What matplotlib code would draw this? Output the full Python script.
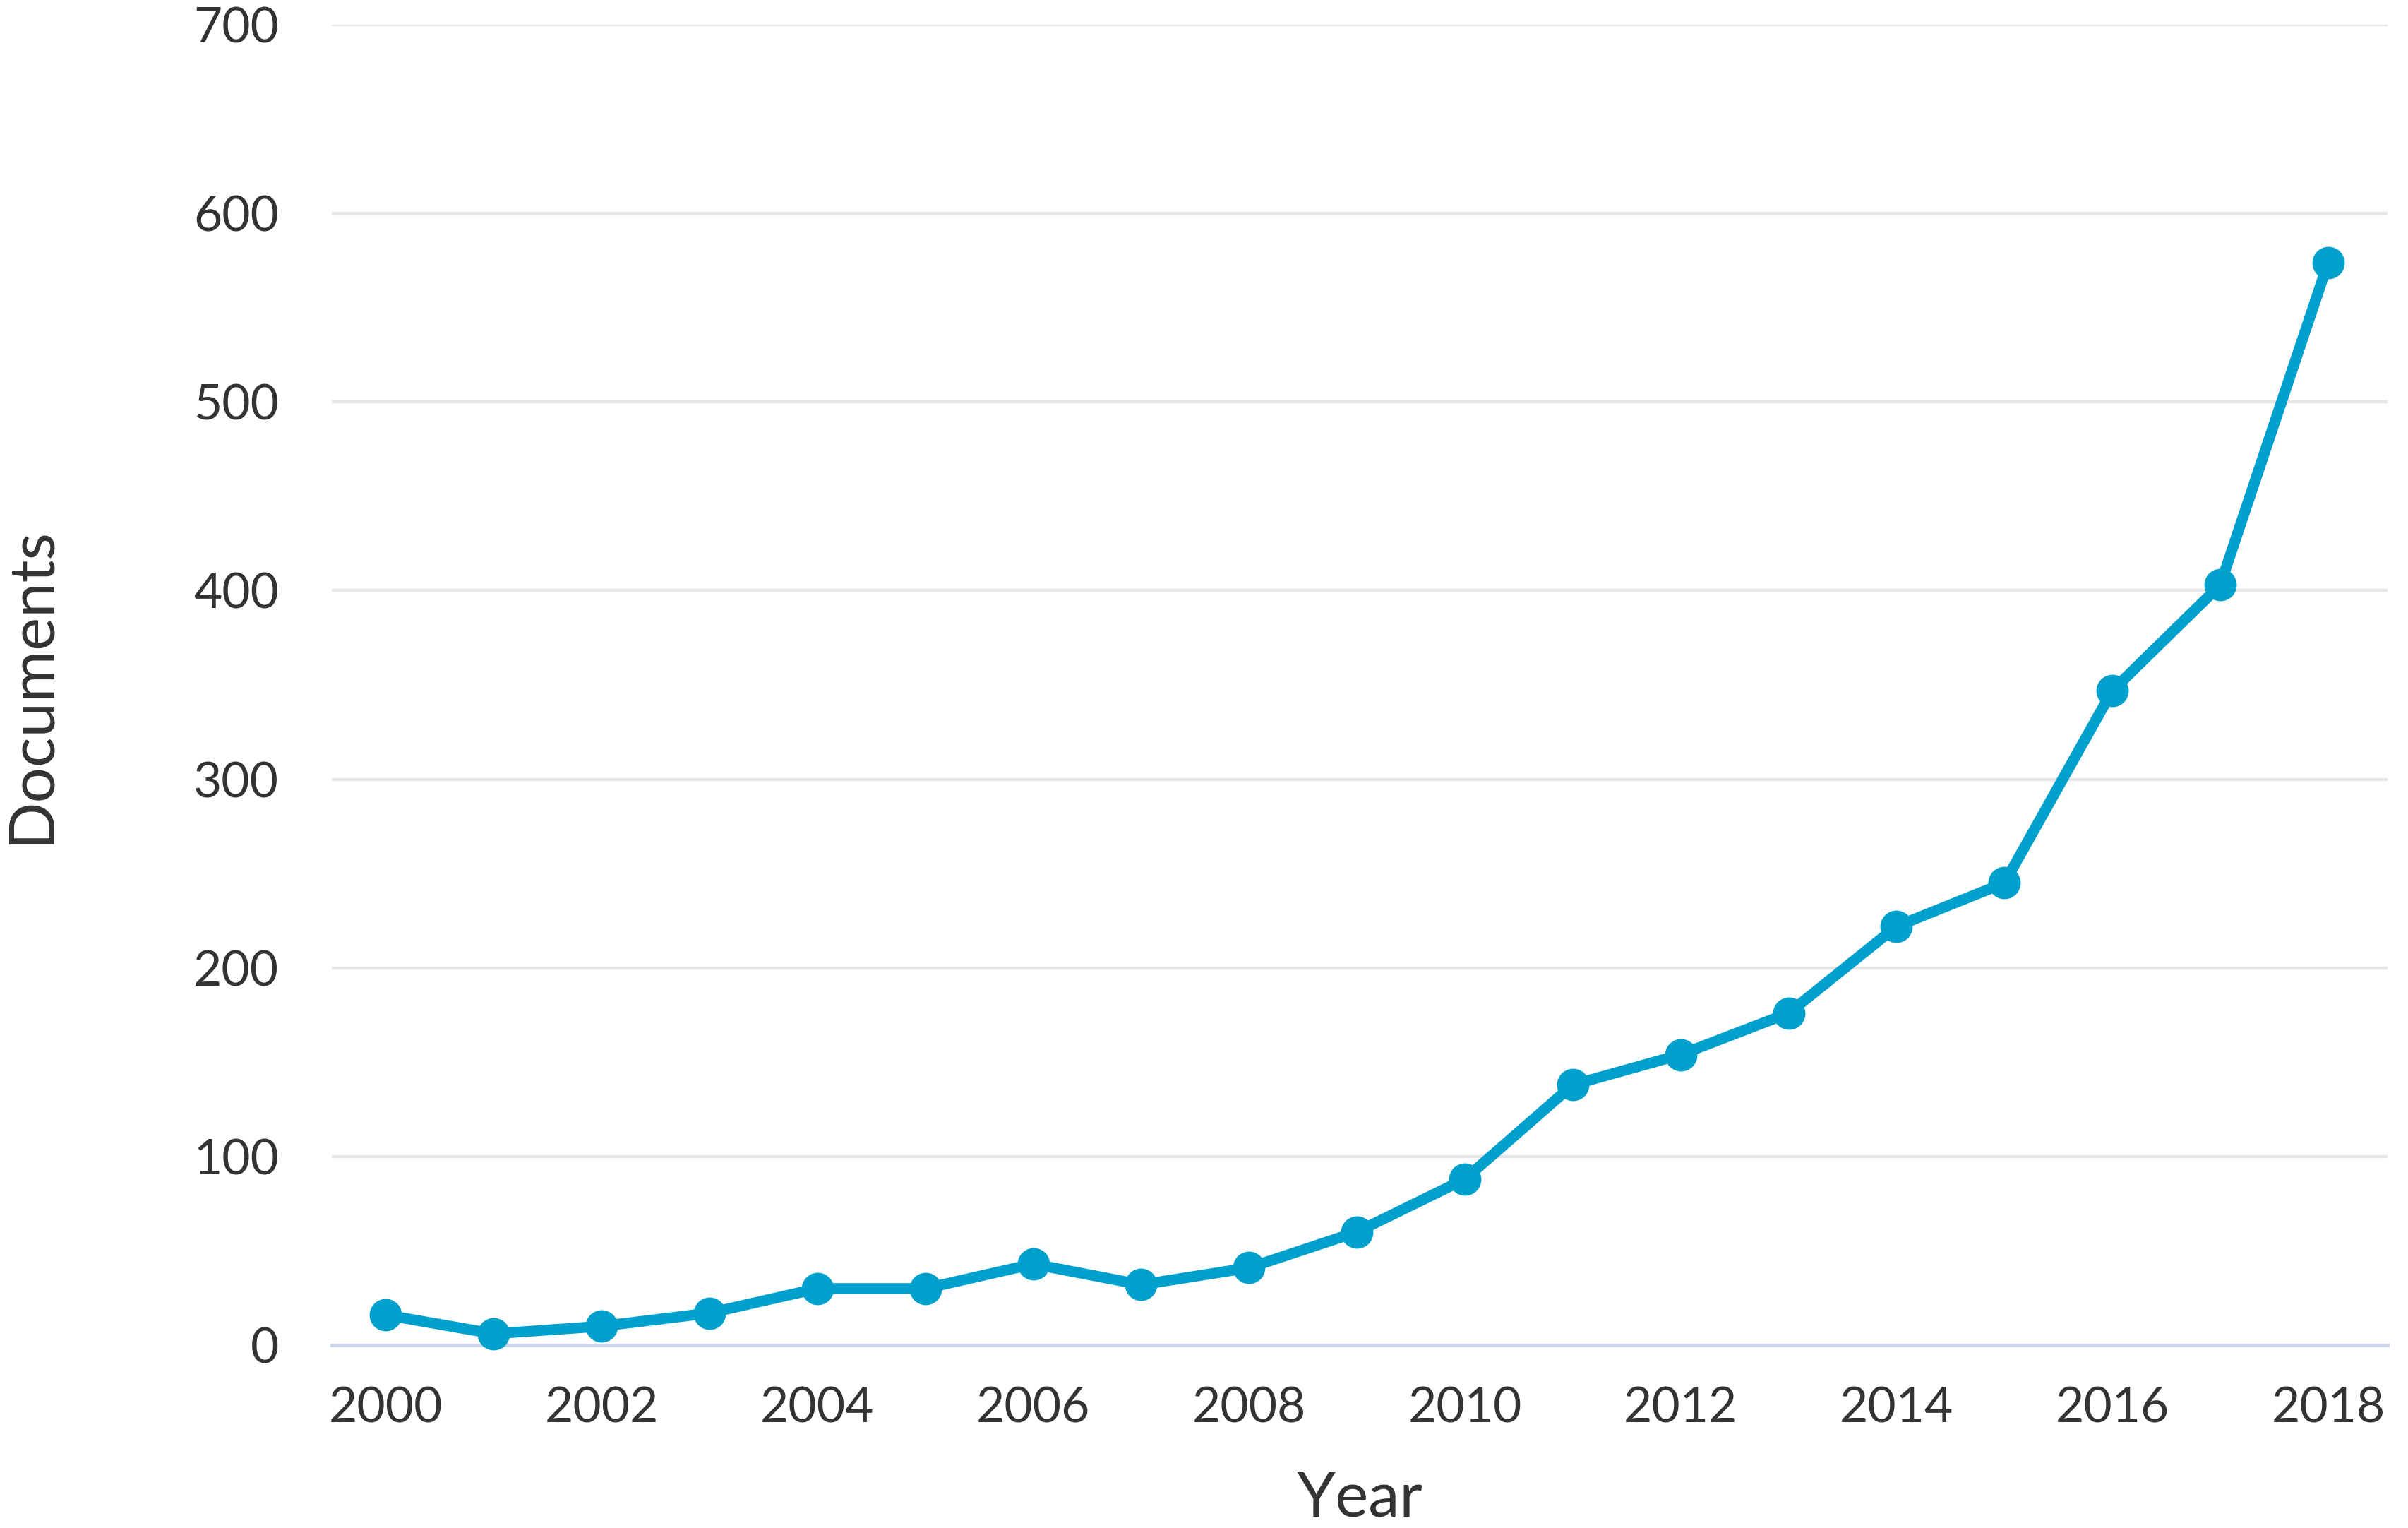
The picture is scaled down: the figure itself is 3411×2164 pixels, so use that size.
import matplotlib
matplotlib.use("Agg")
import matplotlib.pyplot as plt

years = [2000, 2001, 2002, 2003, 2004, 2005, 2006, 2007, 2008, 2009,
         2010, 2011, 2012, 2013, 2014, 2015, 2016, 2017, 2018]
documents = [16, 6, 10, 17, 30, 30, 43, 32, 41, 60,
             88, 138, 154, 176, 222, 245, 347, 403, 574]
x_ticks = [2000, 2002, 2004, 2006, 2008, 2010, 2012, 2014, 2016, 2018]
y_ticks = [0, 100, 200, 300, 400, 500, 600, 700]

plt.rcParams['font.family'] = ['Lato', 'DejaVu Sans']

fig = plt.figure(figsize=(17.055, 10.82), dpi=200)
ax = fig.add_axes([0.1378, 0.1197, 0.9915 - 0.1378, 0.9838 - 0.1197])

ax.plot(years, documents, color='#00A0CD', lw=5.5, marker='o', ms=15.5,
        solid_joinstyle='round', zorder=3, clip_on=False)

ax.set_xlim(1999.5, 2018.55)
ax.set_ylim(0, 700)
ax.set_xticks(x_ticks)
ax.set_yticks(y_ticks)
ax.set_xticklabels([str(t) for t in x_ticks])
ax.set_yticklabels([str(t) for t in y_ticks])

for t in y_ticks[1:]:
    ax.axhline(t, color='#E6E6E6', lw=1.6, zorder=1)
for s in ['top', 'right', 'left']:
    ax.spines[s].set_visible(False)
ax.spines['bottom'].set_color('#CCD6EB')
ax.spines['bottom'].set_linewidth(1.8)

ax.tick_params(axis='both', length=0, labelsize=25, colors='#333333')
ax.tick_params(axis='y', pad=27)
ax.tick_params(axis='x', pad=21)

ax.set_xlabel('Year', fontsize=32, color='#333333', labelpad=20)
ax.set_ylabel('Documents', fontsize=32, color='#333333')
ax.yaxis.set_label_coords(-0.132, 0.5)

fig.savefig('out.png', dpi=200, facecolor='white')
